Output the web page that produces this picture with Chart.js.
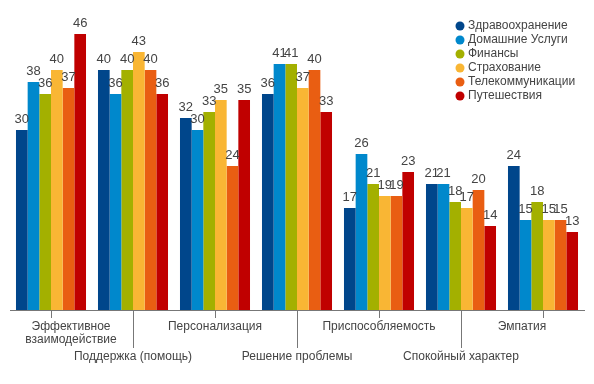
<!DOCTYPE html>
<html>
<head>
<meta charset="utf-8">
<script src="https://cdn.jsdelivr.net/npm/chart.js@4/dist/chart.umd.min.js"></script>
<style>
    body { margin: 0; background: #fff; }
    #wrap { width: 594px; height: 384px; }
</style>
</head>
<body>
<div id="wrap"><canvas id="chart" width="594" height="384"></canvas></div>
<script>
// Categories (x axis)
const categories = ['Эффективное взаимодействие', 'Поддержка (помощь)', 'Персонализация',
    'Решение проблемы', 'Приспособляемость', 'Спокойный характер', 'Эмпатия'];

// Series
const seriesNames = ['Здравоохранение', 'Домашние Услуги', 'Финансы',
    'Страхование', 'Телекоммуникации', 'Путешествия'];
const healthcare = [30, 40, 32, 36, 17, 21, 24];
const homeServices = [38, 36, 30, 41, 26, 21, 15];
const finance = [36, 40, 33, 41, 21, 18, 18];
const insurance = [40, 43, 35, 37, 19, 17, 15];
const telecom = [37, 40, 24, 40, 19, 20, 15];
const travel = [46, 36, 35, 33, 23, 14, 13];
const seriesValues = [healthcare, homeServices, finance, insurance, telecom, travel];
const seriesColors = ['#00468b', '#0088cc', '#a3b000', '#f9b634', '#e95e12', '#c00000'];

const fontFamily = '"Liberation Sans", Arial, sans-serif';

// Data labels above each bar
const valueLabels = {
    id: 'valueLabels',
    afterDatasetsDraw(chart) {
        const ctx = chart.ctx;
        ctx.save();
        ctx.font = '13px ' + fontFamily;
        ctx.fillStyle = '#444';
        ctx.textAlign = 'center';
        ctx.textBaseline = 'alphabetic';
        chart.data.datasets.forEach((ds, di) => {
            const meta = chart.getDatasetMeta(di);
            meta.data.forEach((bar, i) => {
                ctx.fillText(String(ds.data[i]), bar.x, bar.y - 7);
            });
        });
        ctx.restore();
    }
};

// Staggered category labels with short / long tick marks
const axisLabels = {
    id: 'axisLabels',
    afterDraw(chart) {
        const ctx = chart.ctx;
        const xScale = chart.scales.x;
        const y0 = chart.chartArea.bottom;
        const last = categories.length - 1;
        ctx.save();
        ctx.strokeStyle = '#777';
        ctx.lineWidth = 1;
        ctx.font = '12px ' + fontFamily;
        ctx.fillStyle = '#444';
        ctx.textAlign = 'center';
        ctx.textBaseline = 'middle';
        categories.forEach((name, i) => {
            const px = xScale.getPixelForValue(i);
            const x = Math.round(px) + 0.5;
            const lower = i % 2 === 1;
            ctx.beginPath();
            ctx.moveTo(x, y0);
            ctx.lineTo(x, y0 + (lower ? 38 : 8));
            ctx.stroke();

            // edge labels are pulled inwards, as in the original
            let cx = px;
            if (i === 0) cx += 20;
            if (i === last) cx -= 21;
            if (lower) {
                ctx.fillText(name, cx, y0 + 47);
            } else if (i === 0) {
                const parts = name.split(' ');
                ctx.fillText(parts[0], cx, y0 + 17);
                ctx.fillText(parts[1], cx, y0 + 30);
            } else {
                ctx.fillText(name, cx, y0 + 17);
            }
        });
        ctx.restore();
    }
};

// Legend in the top right corner
const cornerLegend = {
    id: 'cornerLegend',
    afterDraw(chart) {
        const ctx = chart.ctx;
        ctx.save();
        ctx.font = '12px ' + fontFamily;
        ctx.textBaseline = 'middle';
        seriesNames.forEach((name, i) => {
            const y = 26 + i * 14;
            ctx.fillStyle = seriesColors[i];
            ctx.beginPath();
            ctx.arc(460, y, 4.5, 0, Math.PI * 2);
            ctx.fill();
            ctx.fillStyle = '#444';
            ctx.fillText(name, 468, y);
        });
        ctx.restore();
    }
};

new Chart(document.getElementById('chart'), {
    type: 'bar',
    data: {
        labels: categories,
        datasets: seriesNames.map((name, i) => ({
            label: name,
            data: seriesValues[i],
            backgroundColor: seriesColors[i],
            borderWidth: 0,
            categoryPercentage: 0.854,
            barPercentage: 1.0
        }))
    },
    options: {
        responsive: false,
        animation: false,
        layout: { padding: { top: 10, left: 10, right: 10 } },
        plugins: {
            legend: { display: false },
            tooltip: { enabled: false }
        },
        scales: {
            x: {
                grid: { display: false },
                border: { display: true, color: '#777' },
                ticks: { display: false },
                afterFit(scale) { scale.height = 74; }
            },
            y: {
                display: false,
                min: 0,
                max: 50
            }
        }
    },
    plugins: [valueLabels, axisLabels, cornerLegend]
});
</script>
</body>
</html>
